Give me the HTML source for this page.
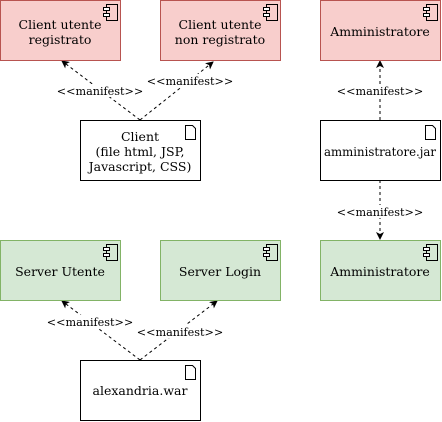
<!DOCTYPE html>
<html><head><meta charset="utf-8"><style>
html,body{margin:0;padding:0;background:#fff;}
svg{display:block;}
text{font-family:"DejaVu Serif","Liberation Serif",serif;}
.t{font-size:12.5px;fill:#000;text-anchor:middle;}
.l{font-size:11.2px;fill:#000;text-anchor:middle;}
</style></head><body>
<svg width="442" height="422" viewBox="0 0 442 422" xmlns="http://www.w3.org/2000/svg">
<defs>
<marker id="a" markerWidth="8" markerHeight="8" refX="7" refY="4" orient="auto" markerUnits="userSpaceOnUse">
<path d="M0,0 L8,4 L0,8 L2,4 z" fill="#000"/>
</marker>
<g id="comp"><rect x="3" y="0" width="11" height="16" fill="none" stroke="#000"/><rect x="0" y="3" width="6" height="3" fill="#fff" stroke="#000"/><rect x="0" y="9" width="6" height="3" fill="#fff" stroke="#000"/></g>
<g id="doc"><path d="M0,0 H7 L10,3 V14 H0 Z" fill="#fff" stroke="#000"/></g>
</defs>
<g stroke="#000" stroke-dasharray="3,3" fill="none">
<line x1="140" y1="120" x2="62" y2="61" marker-end="url(#a)"/>
<line x1="140" y1="120" x2="213" y2="62" marker-end="url(#a)"/>
<line x1="380" y1="120" x2="380" y2="61" marker-end="url(#a)"/>
<line x1="380" y1="180" x2="380" y2="239" marker-end="url(#a)"/>
<line x1="140" y1="360" x2="62" y2="301" marker-end="url(#a)"/>
<line x1="140" y1="360" x2="217" y2="301" marker-end="url(#a)"/>
</g>
<rect x="0.5" y="0.5" width="120" height="60" fill="#f8cecc" stroke="#b85450"/>
<rect x="160.5" y="0.5" width="120" height="60" fill="#f8cecc" stroke="#b85450"/>
<rect x="320.5" y="0.5" width="120" height="60" fill="#f8cecc" stroke="#b85450"/>
<rect x="0.5" y="240.5" width="120" height="60" fill="#d5e8d4" stroke="#82b366"/>
<rect x="160.5" y="240.5" width="120" height="60" fill="#d5e8d4" stroke="#82b366"/>
<rect x="320.5" y="240.5" width="120" height="60" fill="#d5e8d4" stroke="#82b366"/>
<rect x="80.5" y="120.5" width="120" height="60" fill="#fff" stroke="#000"/>
<rect x="320.5" y="120.5" width="120" height="60" fill="#fff" stroke="#000"/>
<rect x="80.5" y="360.5" width="120" height="60" fill="#fff" stroke="#000"/>
<use href="#comp" x="103.5" y="4.5"/><use href="#comp" x="263.5" y="4.5"/><use href="#comp" x="423.5" y="4.5"/>
<use href="#comp" x="103.5" y="244.5"/><use href="#comp" x="263.5" y="244.5"/><use href="#comp" x="423.5" y="244.5"/>
<use href="#doc" x="185.5" y="125.5"/><use href="#doc" x="425.5" y="125.5"/><use href="#doc" x="185.5" y="365.5"/>
<text class="t" x="60" y="29">Client utente</text><text class="t" x="60" y="44">registrato</text>
<text class="t" x="220" y="29">Client utente</text><text class="t" x="220" y="44">non registrato</text>
<text class="t" x="380" y="36">Amministratore</text>
<text class="t" x="140" y="141">Client</text><text class="t" x="140" y="156">(file html, JSP,</text><text class="t" x="140" y="171">Javascript, CSS)</text>
<text class="t" x="380" y="156" textLength="112" lengthAdjust="spacingAndGlyphs">amministratore.jar</text>
<text class="t" x="60" y="276">Server Utente</text>
<text class="t" x="220" y="276">Server Login</text>
<text class="t" x="380" y="276">Amministratore</text>
<text class="t" x="140" y="395">alexandria.war</text>
<g>
<rect x="57" y="84" width="86" height="13" fill="#fff"/><text class="l" x="100" y="95">&lt;&lt;manifest&gt;&gt;</text>
<rect x="147" y="74" width="86" height="13" fill="#fff"/><text class="l" x="190" y="85">&lt;&lt;manifest&gt;&gt;</text>
<rect x="337" y="84" width="86" height="13" fill="#fff"/><text class="l" x="380" y="95">&lt;&lt;manifest&gt;&gt;</text>
<rect x="337" y="205" width="86" height="13" fill="#fff"/><text class="l" x="380" y="216">&lt;&lt;manifest&gt;&gt;</text>
<rect x="47" y="315" width="86" height="13" fill="#fff"/><text class="l" x="90" y="326">&lt;&lt;manifest&gt;&gt;</text>
<rect x="137" y="325" width="86" height="13" fill="#fff"/><text class="l" x="180" y="336">&lt;&lt;manifest&gt;&gt;</text>
</g>
</svg>
</body></html>
